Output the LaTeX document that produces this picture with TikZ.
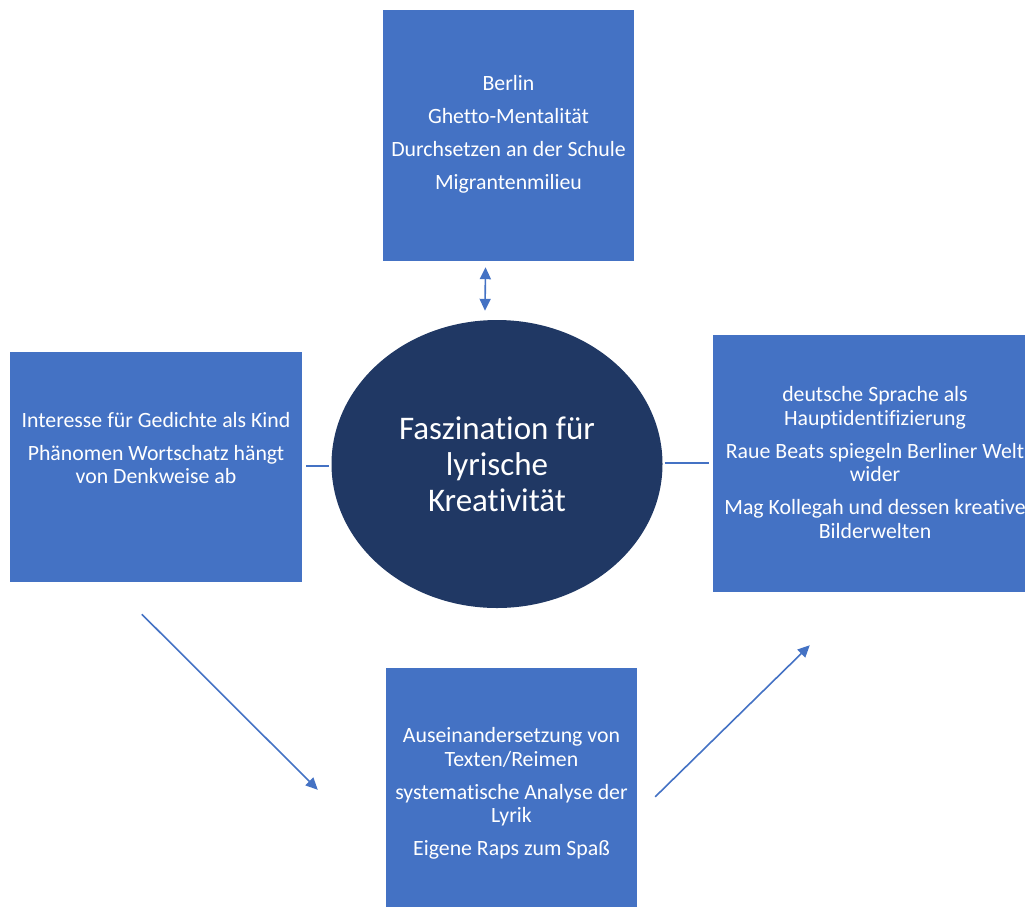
\documentclass[tikz,border=0pt]{standalone}
\usepackage{fontspec}
\setmainfont{Carlito}[Ligatures={NoCommon}]
\usetikzlibrary{calc,arrows.meta,shapes.geometric}
\definecolor{boxblue}{HTML}{4472C4}
\definecolor{navy}{HTML}{203864}
\tikzset{
  box/.style={rectangle, fill=boxblue, draw=none, inner sep=0pt},
  txt/.style={text=white, align=center, font=\fontsize{21.8}{23.5}\selectfont, inner sep=0pt},
  core/.style={ellipse, fill=navy, draw=none, inner sep=0pt,
    minimum width=331, minimum height=288},
  link/.style={draw=boxblue, line width=1.6pt},
  arr/.style={link, -{Triangle[length=12pt,width=11pt]}},
  darr/.style={link, {Triangle[length=12pt,width=11pt]}-{Triangle[length=12pt,width=11pt]}},
}
\begin{document}
\begin{tikzpicture}[x=1pt,y=-1pt]
\useasboundingbox (0,0) rectangle (1025,906);
\clip (0,0) rectangle (1025,906);

% centre ellipse
\node[core, text=white, align=center, font=\fontsize{33}{36}\selectfont]
  (ell) at (497,464) {Faszination für\\lyrische\\Kreativität};

% top box
\node[box, minimum width=251, minimum height=251] (top) at (508.5,135.5) {};
\node[txt] (toptxt) at ($(top.center)+(0,-1)$)
  {Berlin\\[9.5pt]Ghetto-Mentalität\\[9.5pt]Durchsetzen an der Schule\\[9.5pt]Migrantenmilieu};

% left box
\node[box, minimum width=292, minimum height=230] (left) at (156,467) {};
\node[txt] (lefttxt) at ($(left.center)+(0,-19)$)
  {Interesse für Gedichte als Kind\\[9.5pt]Phänomen Wortschatz hängt\\von Denkweise ab};

% right box (runs past the right edge)
\node[box, minimum width=330, minimum height=257] (right) at (878,463.5) {};
\node[txt] (righttxt) at ($(right.center)+(-3,-1)$)
  {deutsche Sprache als\\Hauptidentifizierung\\[9.5pt]Raue Beats spiegeln Berliner Welt\\wider\\[9.5pt]Mag Kollegah und dessen kreative\\Bilderwelten};

% bottom box (runs past the bottom edge)
\node[box, minimum width=251, minimum height=251] (bottom) at (511.5,793.5) {};
\node[txt] (bottomtxt) at ($(bottom.center)+(0,0)$)
  {Auseinandersetzung von\\Texten/Reimen\\[9.5pt]systematische Analyse der\\Lyrik\\[9.5pt]Eigene Raps zum Spaß};

% connectors
\draw[darr] ($(top.south)+(-23,6)$) -- ($(ell.north)+(-12,-9)$);
\draw[link] ($(left.east)+(4,-1)$) -- ($(ell.west)+(-2,2)$);
\draw[link] ($(ell.east)+(2,-1)$) -- ($(right.east)+(-334,-0.5)$);
\draw[arr] ($(left.south west)+(132,32)$) -- ($(bottom.north west)+(-68,122)$);
\draw[arr] ($(bottom.north east)+(18,129)$) -- ($(right.south west)+(97,53)$);
\end{tikzpicture}
\end{document}
